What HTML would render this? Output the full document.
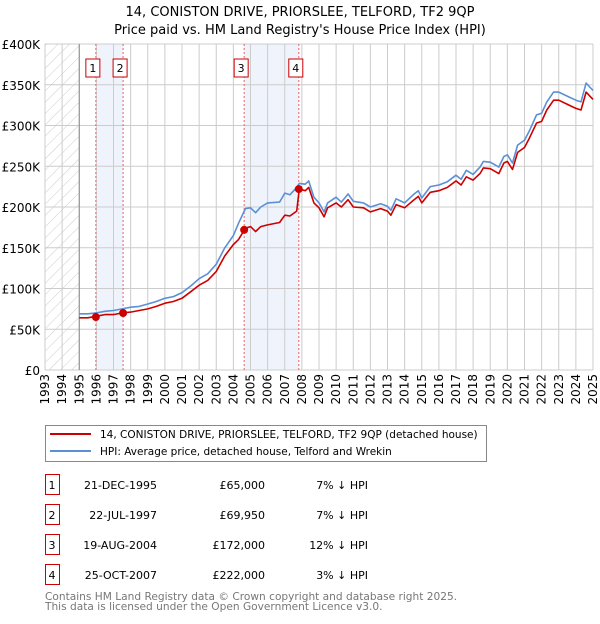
<!DOCTYPE html>
<html><head><meta charset="utf-8"><style>
body{margin:0;background:#fff;font-family:"DejaVu Sans","Liberation Sans",sans-serif;}
svg text{font-family:"DejaVu Sans","Liberation Sans",sans-serif;}
</style></head><body>
<svg id="chart" width="600" height="620" xmlns="http://www.w3.org/2000/svg">
<defs><pattern id="hatch" patternUnits="userSpaceOnUse" width="8" height="8" patternTransform="rotate(45)"><line x1="0" y1="0" x2="0" y2="8" stroke="#ccc" stroke-width="1"/></pattern></defs>
<text x="300" y="16" text-anchor="middle" font-size="13">14, CONISTON DRIVE, PRIORSLEE, TELFORD, TF2 9QP</text>
<text x="300" y="34" text-anchor="middle" font-size="13">Price paid vs. HM Land Registry's House Price Index (HPI)</text>
<g id="plot"></g>
<rect x="45.5" y="425.5" width="441" height="36" fill="#fff" stroke="#888"/>
<line x1="50" y1="434" x2="91" y2="434" stroke="#cc0000" stroke-width="2"/>
<text x="100" y="438" font-size="10.5">14, CONISTON DRIVE, PRIORSLEE, TELFORD, TF2 9QP (detached house)</text>
<line x1="50" y1="451" x2="91" y2="451" stroke="#5b8fd6" stroke-width="2"/>
<text x="100" y="455" font-size="10.5">HPI: Average price, detached house, Telford and Wrekin</text>
<g id="table" font-size="11"></g>
<text x="45" y="600" font-size="10.6" fill="#777">Contains HM Land Registry data © Crown copyright and database right 2025.</text>
<text x="45" y="610" font-size="10.6" fill="#777">This data is licensed under the Open Government Licence v3.0.</text>
</svg>
<script>
const dates=[1995.0,1995.5,1996.0,1996.5,1997.0,1997.5,1998.0,1998.5,1999.0,1999.5,2000.0,2000.5,2001.0,2001.5,2002.0,2002.5,2003.0,2003.5,2004.0,2004.3,2004.7,2005.0,2005.3,2005.6,2006.0,2006.7,2007.0,2007.3,2007.7,2007.85,2008.2,2008.4,2008.7,2009.0,2009.3,2009.5,2010.0,2010.3,2010.7,2011.0,2011.6,2012.0,2012.6,2013.0,2013.2,2013.5,2014.0,2014.5,2014.8,2015.0,2015.5,2016.0,2016.5,2017.0,2017.3,2017.6,2018.0,2018.4,2018.6,2019.0,2019.5,2019.8,2020.0,2020.3,2020.6,2021.0,2021.3,2021.7,2022.0,2022.3,2022.7,2023.0,2023.6,2024.0,2024.3,2024.6,2025.0];
const hpi=[69,69,70,72,73,75,77,78,81,84,88,90,95,103,112,118,130,150,165,180,198,199,193,200,205,206,217,215,224,229,228,232,212,205,194,205,212,206,216,207,205,200,204,201,196,210,205,215,220,211,225,227,231,239,234,245,240,249,256,255,249,262,264,254,276,282,294,313,315,329,341,341,335,331,329,352,343];
const paid=[64,64,66,68,68,70,71,73,75,78,82,84,88,96,104,110,121,140,154,160,174,176,170,176,178,181,190,189,195,222,220,224,205,199,188,199,205,200,209,200,199,194,198,195,190,203,199,208,213,205,218,220,224,232,227,237,233,241,248,247,241,254,256,246,267,273,285,303,305,319,331,331,325,321,319,341,332];
const saleDates=[1995.97,1997.56,2004.63,2007.82];
const salePrices=[65,69.95,172,222];
const saleLabels=["1","2","3","4"];
const saleDateText=["21-DEC-1995","22-JUL-1997","19-AUG-2004","25-OCT-2007"];
const salePriceText=["£65,000","£69,950","£172,000","£222,000"];
const salePctText=["7% ↓ HPI","7% ↓ HPI","12% ↓ HPI","3% ↓ HPI"];
const yTicks=[0,50,100,150,200,250,300,350,400];
const yTickLabels=["£0","£50K","£100K","£150K","£200K","£250K","£300K","£350K","£400K"];
const years=[1993,1994,1995,1996,1997,1998,1999,2000,2001,2002,2003,2004,2005,2006,2007,2008,2009,2010,2011,2012,2013,2014,2015,2016,2017,2018,2019,2020,2021,2022,2023,2024,2025];

const X0=45,X1=593,Y0=370,Y1=44;
const xs=d=>X0+(d-1993)/(2025-1993)*(X1-X0);
const ys=v=>Y0-v/400*(Y0-Y1);
const NS="http://www.w3.org/2000/svg";
const plot=document.getElementById('plot');
function mk(tag,attrs,parent){const e=document.createElementNS(NS,tag);for(const k in attrs)e.setAttribute(k,attrs[k]);(parent||plot).appendChild(e);return e;}

let r=mk('rect',{x:xs(1993),y:Y1,width:xs(1995)-xs(1993),height:Y0-Y1,fill:'url(#hatch)'});


[[0,1],[2,3]].forEach((p,i)=>{
  const b=mk('rect',{x:xs(saleDates[p[0]]),y:Y1,width:xs(saleDates[p[1]])-xs(saleDates[p[0]]),height:Y0-Y1,fill:'#eef3fc'});
  
  
});
years.forEach(y=>{
  const l=mk('line',{x1:xs(y),x2:xs(y),y1:Y1,y2:Y0,stroke:'#ccc','stroke-width':1});
  
  
  const t=mk('text',{x:0,y:0,'font-size':12,'text-anchor':'end',transform:`translate(${xs(y)+4},374) rotate(-90)`});
  t.textContent=y;
  
  
});
yTicks.forEach((v,i)=>{
  const l=mk('line',{x1:X0,x2:X1,y1:ys(v),y2:ys(v),stroke:'#ccc','stroke-width':1});
  
  
  const t=mk('text',{x:40,y:ys(v)+5,'font-size':12,'text-anchor':'end'});
  t.textContent=yTickLabels[i];
  
  
});
let ax=mk('line',{x1:xs(1995),x2:xs(1995),y1:Y1,y2:Y0,stroke:'#888','stroke-width':1});


saleDates.forEach((d,i)=>{
  const l=mk('line',{x1:xs(d),x2:xs(d),y1:Y1,y2:Y0,stroke:'#f06060','stroke-width':1,'stroke-dasharray':'2,2'});
  
  
  const b=mk('rect',{x:xs(d)-10,y:59,width:14,height:18,fill:'#fff',stroke:'#cc0000','stroke-width':1});
  
  
  const t=mk('text',{x:xs(d)-3,y:72,'font-size':11,'text-anchor':'middle'});
  t.textContent=saleLabels[i];
  
  
});
function line(vals,color,name){
  const p=mk('path',{d:vals.map((v,i)=>(i?'L':'M')+xs(dates[i]).toFixed(1)+','+ys(v).toFixed(1)).join(''),fill:'none',stroke:color,'stroke-width':1.6,'stroke-linejoin':'round'});
  
  
}
line(hpi,'#5b8fd6','hpi-line');
line(paid,'#cc0000','price-paid-line');
saleDates.forEach((d,i)=>{
  const c=mk('circle',{cx:xs(d),cy:ys(salePrices[i]),r:4,fill:'#cc0000'});
  
  
});

const tb=document.getElementById('table');
saleLabels.forEach((s,i)=>{
  const y=485+i*30;
  const b=mk('rect',{x:45.5,y:y-10.5,width:14,height:20,fill:'#fff',stroke:'#cc0000'},tb);
  
  
  const cells=[[s,52,'middle'],[saleDateText[i],157,'end'],[salePriceText[i],265,'end'],[salePctText[i],368,'end']];
  const names=['table-number','table-date','table-price','table-hpi-diff'];
  cells.forEach((c,j)=>{
    const t=mk('text',{x:c[1],y:y+4,'text-anchor':c[2]},tb);
    t.textContent=c[0];
    
    
  });
});
</script>
</body></html>
